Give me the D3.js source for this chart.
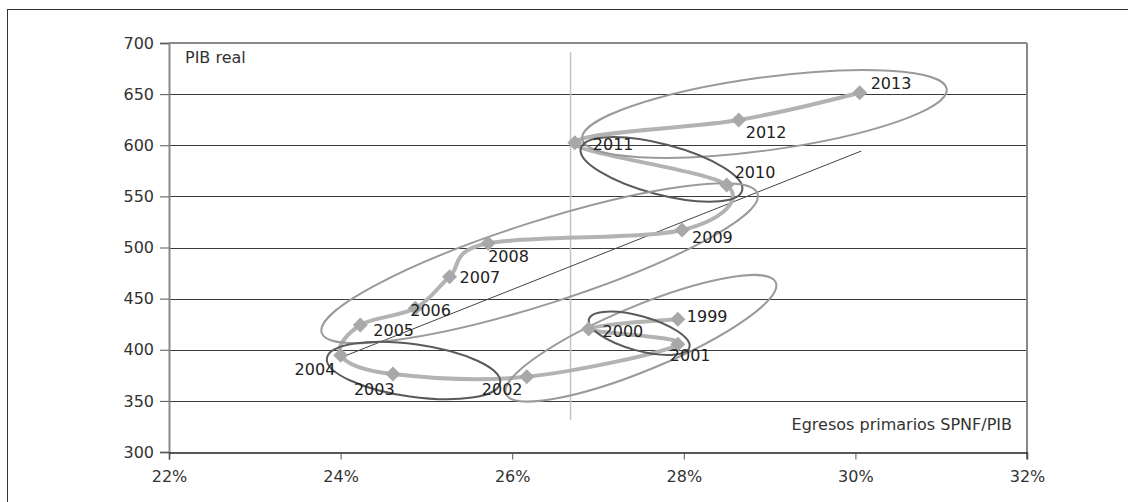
<!DOCTYPE html>
<html><head><meta charset="utf-8">
<script src="https://cdn.jsdelivr.net/npm/d3@7"></script>
<style>
html,body{margin:0;padding:0;background:#fff;}
text{font-family:"DejaVu Sans",Verdana,sans-serif;}
</style></head>
<body>
<svg id="chart" width="1128" height="502"></svg>
<script>
// ---- data ----
const years = [1999,2000,2001,2002,2003,2004,2005,2006,2007,2008,2009,2010,2011,2012,2013];
const egresos = [27.93,26.89,27.93,26.17,24.61,24.00,24.23,24.87,25.27,25.72,27.98,28.50,26.73,28.64,30.05];
const pibReal = [429.8,420.3,405.3,373.6,376.3,394.6,424.2,440.5,471.4,504.1,517.1,561.1,602.5,624.7,651.4];
const labelDx = [9,14,-8,-45,-39,-46,13,-5,10,0,10,8,18,7,11];
const labelDy = [3,8,17,18,21,20,11,8,6,19,13,-7,7,18,-4];
const xTicks = [22,24,26,28,30,32];
const yTicks = [300,350,400,450,500,550,600,650,700];
const trendX = [24.01,30.07];
const trendY = [392.6,594.4];
const meanX = 26.68;
const meanYRange = [331,691];
// ellipse annotations: centre (data units), semi-axes (px), rotation (deg)
const ellCx = [28.94,27.74,26.32,24.85,27.50,27.48];
const ellCy = [630.6,576.4,484.6,379.7,411.2,416.1];
const ellA = [184,83.4,228.8,87.5,146,52.2];
const ellB = [36.5,25.2,41.3,26.3,32.2,17.2];
const ellRot = [-7.8,14.7,-17.7,8.05,-22.5,15.6];
const ellTone = ["light","dark","light","dark","light","dark"];

const svg = d3.select("#chart");
const L=169,R=1027,T=43,B=452;
const x = d3.scaleLinear().domain([22,32]).range([L,R]);
const y = d3.scaleLinear().domain([300,700]).range([B,T]);

// outer frame
svg.append("rect").attr("x",7.5).attr("y",9.5).attr("width",1140).attr("height",520)
  .attr("fill","none").attr("stroke","#333").attr("stroke-width",1);

// gridlines
svg.append("g").selectAll("line").data(yTicks.filter(v=>v>300&&v<700)).join("line")
  .attr("x1",L).attr("x2",R).attr("y1",d=>Math.round(y(d))+0.5).attr("y2",d=>Math.round(y(d))+0.5)
  .attr("stroke","#3a3a3a").attr("stroke-width",1);
// top line
svg.append("line").attr("x1",L).attr("x2",R).attr("y1",y(700)).attr("y2",y(700))
  .attr("stroke","#8a8a8a").attr("stroke-width",2);
// right border
svg.append("line").attr("x1",R).attr("x2",R).attr("y1",T).attr("y2",B+7)
  .attr("stroke","#8a8a8a").attr("stroke-width",2);

// y axis
const yAxis = d3.axisLeft(y).tickValues(yTicks).tickSize(9).tickPadding(6).tickFormat(d3.format("d"));
const gy = svg.append("g").attr("transform",`translate(${L},0)`).call(yAxis);
gy.select(".domain").attr("stroke","#8a8a8a").attr("stroke-width",2);
gy.selectAll(".tick line").attr("stroke","#555");
gy.selectAll("text").attr("font-size",16).attr("fill","#333").attr("font-family","DejaVu Sans");

// x axis
const xAxis = d3.axisBottom(x).tickValues(xTicks).tickSize(7).tickPadding(11).tickFormat(d=>d+"%");
const gx = svg.append("g").attr("transform",`translate(0,${B+0.5})`).call(xAxis);
gx.select(".domain").attr("stroke","#222").attr("stroke-width",1.5);
gx.selectAll(".tick line").attr("stroke","#555");
gx.selectAll("text").attr("font-size",16).attr("fill","#333").attr("font-family","DejaVu Sans");

// axis titles
svg.append("text").attr("x",185).attr("y",63).attr("font-size",16).attr("fill","#333").text("PIB real");
svg.append("text").attr("x",1012).attr("y",430).attr("text-anchor","end").attr("font-size",16).attr("fill","#333").text("Egresos primarios SPNF/PIB");

// mean vertical line
svg.append("line").attr("x1",x(meanX)).attr("x2",x(meanX)).attr("y1",y(meanYRange[1])).attr("y2",y(meanYRange[0]))
  .attr("stroke","#c4c4c4").attr("stroke-width",1.5);

// trend line
svg.append("line").attr("x1",x(trendX[0])).attr("y1",y(trendY[0])).attr("x2",x(trendX[1])).attr("y2",y(trendY[1]))
  .attr("stroke","#444").attr("stroke-width",1);

const pts = years.map((yr,i)=>({yr,x:egresos[i],y:pibReal[i],dx:labelDx[i],dy:labelDy[i]}));

// smooth line
const line = d3.line().x(d=>x(d.x)).y(d=>y(d.y)).curve(d3.curveCardinal.tension(0));
svg.append("path").datum(pts).attr("d",line).attr("fill","none")
  .attr("stroke","#b3b3b3").attr("stroke-width",4).attr("stroke-linejoin","round");

// ellipses
const ells = ellCx.map((c,i)=>({cx:c,cy:ellCy[i],a:ellA[i],b:ellB[i],r:ellRot[i],tone:ellTone[i]}));
svg.append("g").selectAll("ellipse").data(ells).join("ellipse")
  .attr("transform",d=>`translate(${x(d.cx)},${y(d.cy)}) rotate(${d.r})`)
  .attr("rx",d=>d.a).attr("ry",d=>d.b).attr("fill","none")
  .attr("stroke",d=>d.tone==="dark"?"#5a5a5a":"#9a9a9a").attr("stroke-width",2);

// diamonds
const dm = 7.5;
svg.append("g").selectAll("path").data(pts).join("path")
  .attr("d",d=>{const px=x(d.x),py=y(d.y);return `M${px},${py-dm}L${px+dm},${py}L${px},${py+dm}L${px-dm},${py}Z`;})
  .attr("fill","#a8a8a8");

// labels
svg.append("g").selectAll("text").data(pts).join("text")
  .attr("x",d=>x(d.x)+d.dx).attr("y",d=>y(d.y)+d.dy)
  .attr("font-size",16).attr("fill","#222").text(d=>d.yr);
</script>
</body></html>
